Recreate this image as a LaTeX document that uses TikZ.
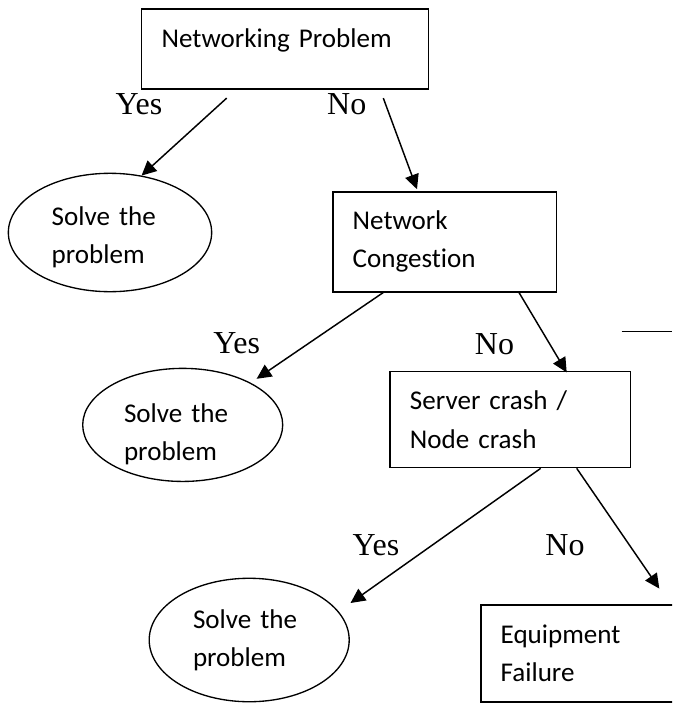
\documentclass[tikz,border=0pt]{standalone}
\usepackage{fontspec}
\setmainfont{Liberation Serif}
\newfontfamily\calibri[Ligatures=NoCommon]{Carlito}
\usetikzlibrary{arrows.meta,calc,shapes.geometric}

\tikzset{
  boxnode/.style={draw, line width=1.2pt, inner xsep=15pt, inner ysep=0pt, align=left,
    font=\calibri\fontsize{20.3}{28.7}\selectfont},
  solvenode/.style={draw, ellipse, line width=1pt, inner sep=0pt, align=left,
    font=\calibri\fontsize{20.3}{28.7}\selectfont},
  yesno/.style={inner sep=0pt, font=\fontsize{24}{28}\selectfont},
  arr/.style={line width=1.1pt, -{Triangle[length=11pt,width=10.5pt]}}
}

\begin{document}
\begin{tikzpicture}[x=0.75pt,y=0.75pt,yscale=-1,xscale=1]
\useasboundingbox (0,0) rectangle (672,703);
\clip (0,0) rectangle (672,703);

%Shape: Rectangle [box1]
\node[boxnode, minimum width=215pt, minimum height=60pt, text width=185pt, text depth=16pt] (box1) at (285,49) {Networking Problem};
%Shape: Rectangle [box2]
\node[boxnode, minimum width=167.7pt, minimum height=75pt, text width=137.7pt] (box2) at (444.5,241.7) {Network\\Congestion};
%Shape: Rectangle [box3]
\node[boxnode, minimum width=180.4pt, minimum height=71.9pt, text width=150.4pt] (box3) at (510.2,419.6) {Server crash /\\Node crash};
%Shape: Rectangle [box4]
\node[boxnode, minimum width=180pt, minimum height=72.5pt, text width=150pt] (box4) at (600.7,653.4) {Equipment\\Failure};

%Shape: Ellipse [ell1]
\node[solvenode, minimum width=152.5pt, minimum height=88.8pt, text width=87.5pt, text height=21.4pt] (ell1) at (110,232.5) {Solve the\\problem};
%Shape: Ellipse [ell2]
\node[solvenode, minimum width=150pt, minimum height=79.7pt, text width=88pt, text height=28pt] (ell2) at (182.7,424.9) {Solve the\\problem};
%Shape: Ellipse [ell3]
\node[solvenode, minimum width=150pt, minimum height=92.6pt, text width=84.3pt, text height=15pt] (ell3) at (249.2,640) {Solve the\\problem};

%Text: Yes / No
\node[yesno] (yes1) at (139,104) {Yes};
\node[yesno] (no1) at (346.7,104) {No};
\node[yesno] (yes2) at (236.7,343) {Yes};
\node[yesno] (no2) at (494.5,344) {No};
\node[yesno] (yes3) at (376,545) {Yes};
\node[yesno] (no3) at (565,545) {No};

%Straight Lines
\draw[arr] ($(box1.south)+(-58.3,8.3)$) -- (ell1.61);
\draw[arr] ($(box1.south)+(98.3,8.3)$) -- ($(box2.north)+(-27.5,-1.7)$);
\draw[arr] ($(box2.south)+(-61.2,0)$) -- ($(ell2.32)+(6.2,-3.8)$);
\draw[arr] ($(box2.south)+(74.5,0)$) -- ($(box3.north)+(56.5,1.6)$);
\draw[arr] ($(box3.south)+(30.5,0)$) -- ($(ell3.20)+(14.5,-5.4)$);
\draw[arr] ($(box3.south)+(66.5,0)$) -- ($(box4.north)+(58.6,-15.7)$);

%Straight Lines
\draw[line width=1pt] (621.7,331.7) -- (672,331.7);

\end{tikzpicture}
\end{document}
